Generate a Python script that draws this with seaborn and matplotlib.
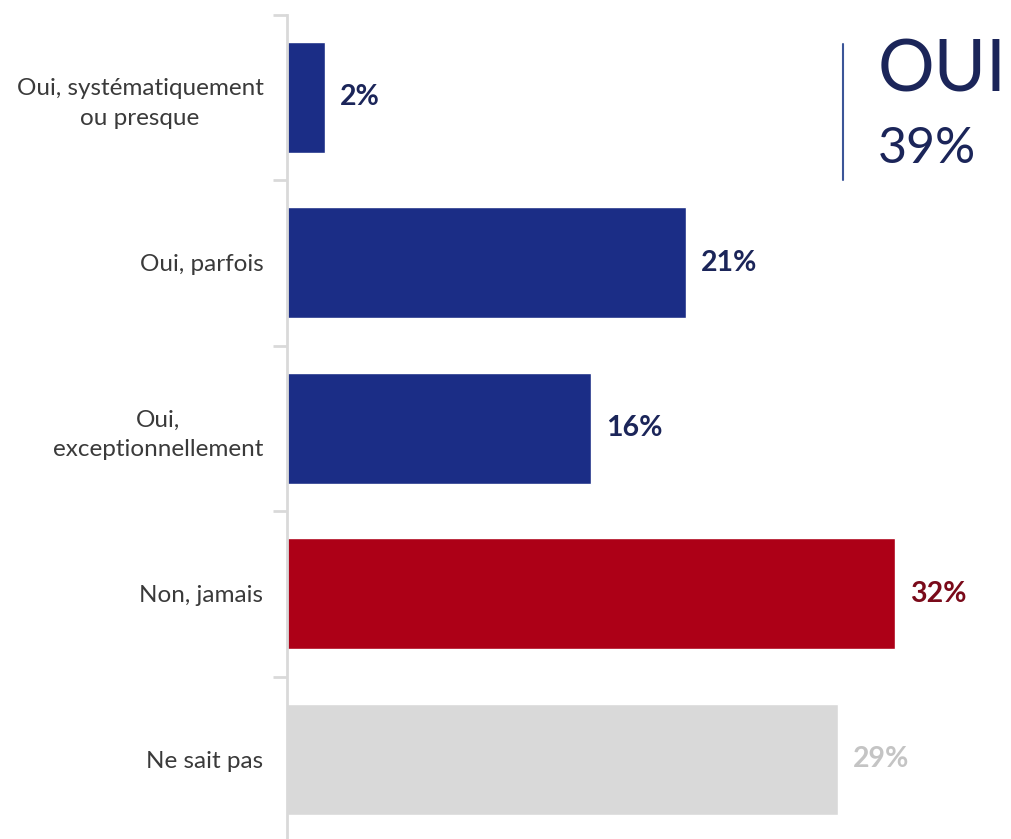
import seaborn as sns
import matplotlib.pyplot as plt
import pandas as pd

categories = ["Oui, systématiquement\nou presque", "Oui, parfois", "Oui,\nexceptionnellement",
              "Non, jamais", "Ne sait pas"]
values = [2, 21, 16, 32, 29]
bar_colors = ["#1B2D86", "#1B2D86", "#1B2D86", "#AD0017", "#D9D9D9"]
label_colors = ["#1B2559", "#1B2559", "#1B2559", "#7A0A1A", "#C4C4C4"]
total_label = "OUI"
total_value = "39%"

df = pd.DataFrame({"cat": categories, "val": values})

sns.set_style("white")
plt.rcParams["font.family"] = ["Lato", "DejaVu Sans"]

fig = plt.figure(figsize=(10.12, 8.39), dpi=100)
ax = fig.add_axes([287 / 1012, -3 / 839, 1 - 287 / 1012, (842 - 14.75) / 839])

sns.barplot(data=df, x="val", y="cat", hue="cat", palette=bar_colors, legend=False,
            width=0.67, saturation=1, ax=ax)

for i, v in enumerate(values):
    ax.text(v + 0.8, i, "{}%".format(v), va="center", ha="left", fontsize=20.5,
            fontweight="bold", color=label_colors[i])

ax.set_xlim(0, 38.15)
ax.set_ylim(4.5, -0.5)
ax.set_xlabel("")
ax.set_ylabel("")
ax.set_xticks([])
# boundary ticks between categories
ax.set_yticks([i + 0.5 for i in range(-1, 5)])
ax.set_yticklabels([])
ax.tick_params(axis="y", which="major", length=10, width=2, color="#D9D9D9", left=True)
# category labels
ax.set_yticks(range(5), minor=True)
ax.set_yticklabels(categories, minor=True, fontsize=17.5, color="#3A3A3A",
                   linespacing=1.5, multialignment="center")
ax.tick_params(axis="y", which="minor", length=0, pad=17, labelcolor="#3A3A3A")

sns.despine(ax=ax, top=True, right=True, bottom=True, left=False)
ax.spines["left"].set_color("#D9D9D9")
ax.spines["left"].set_linewidth(2)

fig.add_artist(plt.Line2D([843 / 1012, 843 / 1012], [1 - 44 / 839, 1 - 180 / 839],
                          color="#3B5598", linewidth=1.5))
fig.text(878 / 1012, 1 - 71 / 839, total_label, fontsize=51, color="#1B2559",
         va="center", ha="left")
fig.text(878 / 1012, 1 - 149 / 839, total_value, fontsize=36, color="#1B2559",
         va="center", ha="left")

fig.savefig("out.png", dpi=100)
